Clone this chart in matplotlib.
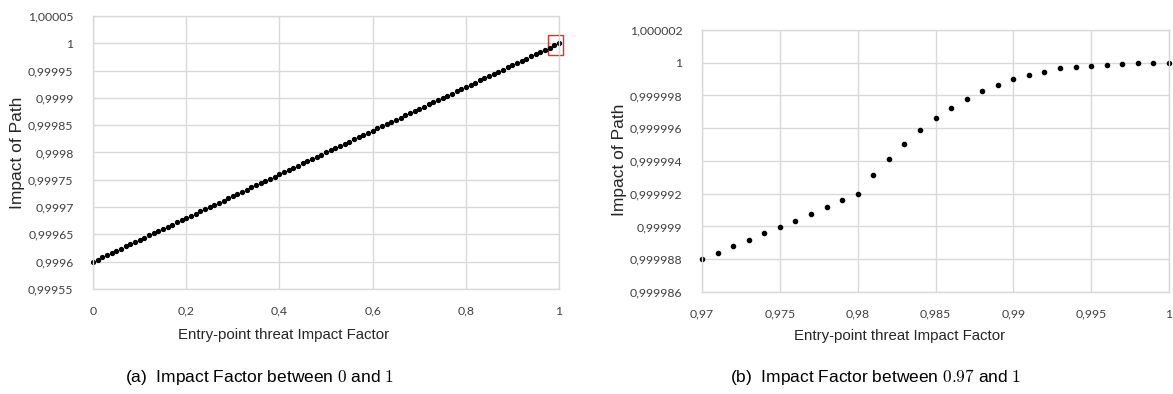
import numpy as np
import matplotlib
matplotlib.use('Agg')
import matplotlib.pyplot as plt
from matplotlib.patches import Rectangle

# left panel: impact factor 0..1 in steps of 0.01
factor_a = [i / 100 for i in range(101)]
impact_a = [
    0.999600, 0.999604, 0.999608, 0.999612, 0.999616, 0.999620, 0.999624, 0.999628, 0.999632, 0.999636,
    0.999640, 0.999644, 0.999648, 0.999652, 0.999656, 0.999660, 0.999664, 0.999668, 0.999672, 0.999676,
    0.999680, 0.999684, 0.999688, 0.999692, 0.999696, 0.999700, 0.999704, 0.999708, 0.999712, 0.999716,
    0.999720, 0.999724, 0.999728, 0.999732, 0.999736, 0.999740, 0.999744, 0.999748, 0.999752, 0.999756,
    0.999760, 0.999764, 0.999768, 0.999772, 0.999776, 0.999780, 0.999784, 0.999788, 0.999792, 0.999796,
    0.999800, 0.999804, 0.999808, 0.999812, 0.999816, 0.999820, 0.999824, 0.999828, 0.999832, 0.999836,
    0.999840, 0.999844, 0.999848, 0.999852, 0.999856, 0.999860, 0.999864, 0.999868, 0.999872, 0.999876,
    0.999880, 0.999884, 0.999888, 0.999892, 0.999896, 0.999900, 0.999904, 0.999908, 0.999912, 0.999916,
    0.999920, 0.999924, 0.999928, 0.999932, 0.999936, 0.999940, 0.999944, 0.999948, 0.999952, 0.999956,
    0.999960, 0.999964, 0.999968, 0.999972, 0.999976, 0.999980, 0.999984, 0.999988, 0.999992, 0.999996,
    1.000000,
]

# right panel: zoom on 0.97..1
factor_b = [0.970, 0.971, 0.972, 0.973, 0.974, 0.975, 0.976, 0.977, 0.978, 0.979,
            0.980, 0.981, 0.982, 0.983, 0.984, 0.985, 0.986, 0.987, 0.988, 0.989,
            0.990, 0.991, 0.992, 0.993, 0.994, 0.995, 0.996, 0.997, 0.998, 0.999, 1.000]
impact_b = [0.99998800, 0.99998841, 0.99998878, 0.99998915, 0.99998960, 0.99998997,
            0.99999036, 0.99999079, 0.99999120, 0.99999163, 0.99999201, 0.99999312,
            0.99999411, 0.99999506, 0.99999587, 0.99999662, 0.99999725, 0.99999776,
            0.99999827, 0.99999863, 0.99999900, 0.99999926, 0.99999944, 0.99999965,
            0.99999975, 0.99999983, 0.99999989, 0.99999994, 0.99999997, 0.99999999, 1.00000000]

xticks_a = [0, 0.2, 0.4, 0.6, 0.8, 1]
xlabels_a = ['0', '0,2', '0,4', '0,6', '0,8', '1']
yticks_a = [0.99955, 0.9996, 0.99965, 0.9997, 0.99975, 0.9998, 0.99985, 0.9999, 0.99995, 1, 1.00005]
ylabels_a = ['0,99955', '0,9996', '0,99965', '0,9997', '0,99975', '0,9998',
             '0,99985', '0,9999', '0,99995', '1', '1,00005']

xticks_b = [0.97, 0.975, 0.98, 0.985, 0.99, 0.995, 1]
xlabels_b = ['0,97', '0,975', '0,98', '0,985', '0,99', '0,995', '1']
yticks_b = [0.999986, 0.999988, 0.99999, 0.999992, 0.999994, 0.999996, 0.999998, 1, 1.000002]
ylabels_b = ['0,999986', '0,999988', '0,99999', '0,999992', '0,999994',
             '0,999996', '0,999998', '1', '1,000002']

plt.rcParams['mathtext.fontset'] = 'cm'
tick_font = 'Lato'
label_font = 'Liberation Sans'
grid_col = '#d9d9d9'

fig = plt.figure(figsize=(11.73, 3.94), dpi=100)
ax1 = fig.add_axes([0.0793, 0.2665, 0.3973, 0.6929])
ax2 = fig.add_axes([0.5985, 0.2589, 0.3981, 0.665])


def style(ax, xt, xl, yt, yl, xlab_pos, ylab_pos):
    ax.set_xlim(xt[0], xt[-1])
    ax.set_ylim(yt[0], yt[-1])
    ax.set_xticks(xt)
    ax.set_xticklabels(xl, fontfamily=tick_font, fontsize=8.8, color='#404040')
    ax.set_yticks(yt)
    ax.set_yticklabels(yl, fontfamily=tick_font, fontsize=8.8, color='#404040')
    ax.tick_params(length=0, pad=14)
    ax.tick_params(axis='x', pad=12)
    ax.grid(True, color=grid_col, linewidth=1)
    ax.set_axisbelow(True)
    for s in ax.spines.values():
        s.set_color(grid_col)
        s.set_linewidth(1)
    ax.set_xlabel('Entry-point threat Impact Factor', fontfamily=label_font,
                  fontsize=10.8, color='#262626', va='center')
    ax.set_ylabel('Impact of Path', fontfamily=label_font, fontsize=12.5,
                  color='#262626', va='center')
    ax.xaxis.set_label_coords(*xlab_pos)
    ax.yaxis.set_label_coords(*ylab_pos)


ax1.plot(factor_a, impact_a, 'o', color='black', markersize=2.8, clip_on=False)
style(ax1, xticks_a, xlabels_a, yticks_a, ylabels_a, (0.408, -0.168), (-0.163, 0.5))
ax1.add_patch(Rectangle((0.976, 0.999979), 0.033, 0.000037, fill=False,
                        edgecolor='#e03030', linewidth=1, clip_on=False))

ax2.plot(factor_b, impact_b, 'o', color='black', markersize=3, clip_on=False)
style(ax2, xticks_b, xlabels_b, yticks_b, ylabels_b, (0.422, -0.168), (-0.177, 0.504))

fig.text(0.2213, 0.043, r'(a)  Impact Factor between $0$ and $1$',
         fontfamily='Liberation Sans', fontsize=12.5, ha='center', va='center')
fig.text(0.7466, 0.043, r'(b)  Impact Factor between $0.97$ and $1$',
         fontfamily='Liberation Sans', fontsize=12.5, ha='center', va='center')

fig.savefig('out.png', dpi=100)
